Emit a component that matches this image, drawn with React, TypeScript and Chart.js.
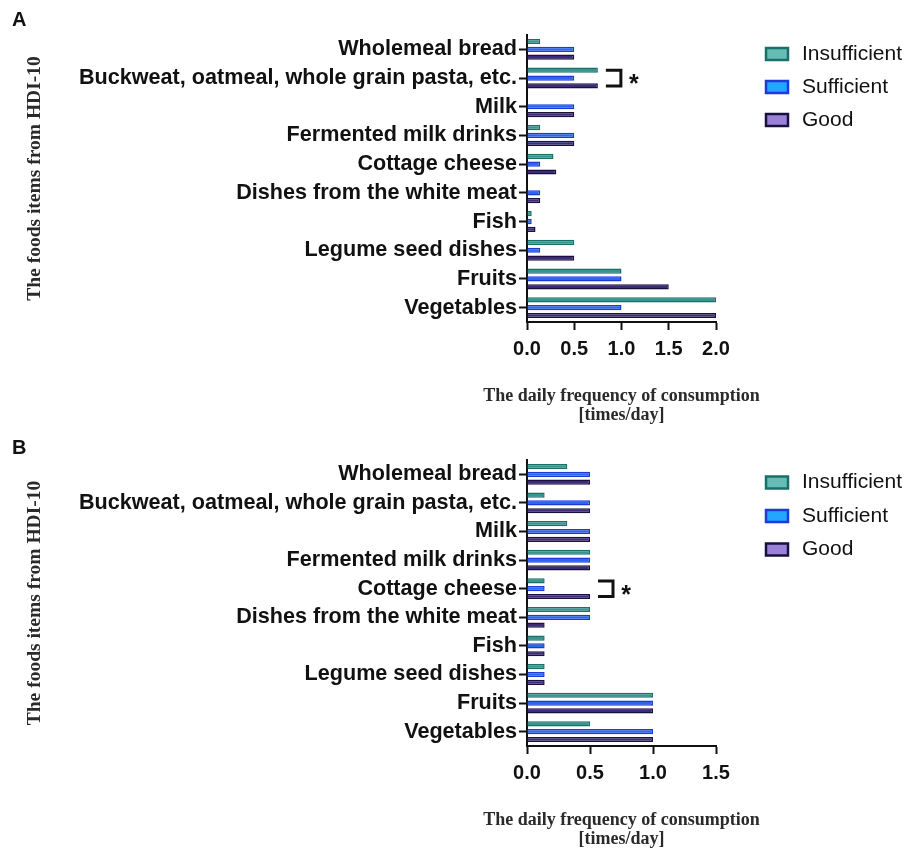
import React, { useEffect, useRef } from 'react';
import { Chart, registerables } from 'chart.js';

Chart.register(...registerables);

// ---------- data ----------
const categories = [
  'Wholemeal bread',
  'Buckweat, oatmeal, whole grain pasta, etc.',
  'Milk',
  'Fermented milk drinks',
  'Cottage cheese',
  'Dishes from the white meat',
  'Fish',
  'Legume seed dishes',
  'Fruits',
  'Vegetables',
];
const seriesNames = ['Insufficient', 'Sufficient', 'Good'];

// Panel A
const insufficientA = [0.14, 0.75, 0, 0.14, 0.28, 0, 0.05, 0.5, 1.0, 2.0];
const sufficientA = [0.5, 0.5, 0.5, 0.5, 0.14, 0.14, 0.05, 0.14, 1.0, 1.0];
const goodA = [0.5, 0.75, 0.5, 0.5, 0.31, 0.14, 0.09, 0.5, 1.5, 2.0];
const xTicksA = [0, 0.5, 1.0, 1.5, 2.0];
const sigCategoryA = 'Buckweat, oatmeal, whole grain pasta, etc.';

// Panel B
const insufficientB = [0.32, 0.14, 0.32, 0.5, 0.14, 0.5, 0.14, 0.14, 1.0, 0.5];
const sufficientB = [0.5, 0.5, 0.5, 0.5, 0.14, 0.5, 0.14, 0.14, 1.0, 1.0];
const goodB = [0.5, 0.5, 0.5, 0.5, 0.5, 0.14, 0.14, 0.14, 1.0, 1.0];
const xTicksB = [0, 0.5, 1.0, 1.5];
const sigCategoryB = 'Cottage cheese';

const yTitle = 'The foods items from HDI-10';
const xTitle = ['The daily frequency of consumption', '[times/day]'];

// ---------- styles ----------
const fills = ['#34968f', '#2a66f2', '#3b2b7a'];
const borders = ['#1b6f6a', '#1c3bd6', '#1a1040'];
const legendFills = ['#66bdb6', '#22a6ff', '#9b82d8'];

const SANS = '"Liberation Sans", Arial, sans-serif';
const SERIF = '"Liberation Serif", "Times New Roman", serif';

Chart.defaults.font.family = SANS;

const sideLegend = {
  id: 'sideLegend',
  afterDraw(chart: any, _args: any, opts: any) {
    const ctx = chart.ctx as CanvasRenderingContext2D;
    ctx.save();
    chart.data.datasets.forEach((ds: any, i: number) => {
      const cy = opts.y + i * opts.gap;
      ctx.fillStyle = ds.legendFill;
      ctx.fillRect(opts.x, cy - opts.h / 2, opts.w, opts.h);
      ctx.lineWidth = 2.5;
      ctx.strokeStyle = ds.borderColor;
      ctx.strokeRect(opts.x, cy - opts.h / 2, opts.w, opts.h);
      ctx.fillStyle = '#111';
      ctx.font = `21px ${SANS}`;
      ctx.textBaseline = 'middle';
      ctx.textAlign = 'left';
      ctx.fillText(ds.label, opts.x + opts.textOffset, cy);
    });
    ctx.restore();
  },
};

// x-axis title drawn without the scale's width limit (it is wider than the axis)
const wideXTitle = {
  id: 'wideXTitle',
  afterDraw(chart: any, _args: any, opts: any) {
    const s = chart.scales.x;
    const ctx = chart.ctx as CanvasRenderingContext2D;
    const lines: string[] = opts.text;
    ctx.save();
    ctx.fillStyle = '#2a2a2a';
    ctx.font = `bold ${opts.size}px ${SERIF}`;
    ctx.textAlign = 'center';
    ctx.textBaseline = 'alphabetic';
    const cx = (s.left + s.right) / 2;
    lines.forEach((t, j) => {
      const y = s.bottom - opts.bottomGap - (lines.length - 1 - j) * opts.lineHeight;
      ctx.fillText(t, cx, y);
    });
    ctx.restore();
  },
};

const sigBracket = {
  id: 'sigBracket',
  afterDatasetsDraw(chart: any, _args: any, opts: any) {
    const i = chart.data.labels.indexOf(opts.category);
    if (i < 0) return;
    const n = chart.data.datasets.length;
    const first = chart.getDatasetMeta(0).data[i];
    const last = chart.getDatasetMeta(n - 1).data[i];
    const maxV = Math.max(...chart.data.datasets.map((d: any) => d.data[i]));
    const x0 = chart.scales.x.getPixelForValue(maxV) + opts.gap;
    const x1 = x0 + opts.arm;
    const ctx = chart.ctx as CanvasRenderingContext2D;
    ctx.save();
    ctx.strokeStyle = '#111';
    ctx.lineWidth = 3;
    ctx.lineJoin = 'miter';
    ctx.beginPath();
    ctx.moveTo(x0, first.y);
    ctx.lineTo(x1, first.y);
    ctx.lineTo(x1, last.y);
    ctx.lineTo(x0, last.y);
    ctx.stroke();
    ctx.fillStyle = '#111';
    ctx.font = `bold 25px ${SANS}`;
    ctx.textAlign = 'center';
    ctx.textBaseline = 'alphabetic';
    ctx.fillText('*', x1 + 13, (first.y + last.y) / 2 + 14);
    ctx.restore();
  },
};

type PanelProps = {
  letter: string;
  series: number[][];
  ticks: number[];
  sigCategory: string;
  top: number;
  height: number;
  letterPad: { top: number; bottom: number };
  legendY: number;
  legendGap: number;
};

function Panel(p: PanelProps) {
  const ref = useRef<HTMLCanvasElement>(null);
  useEffect(() => {
    const ticks = p.ticks;
    const chart = new Chart(ref.current as HTMLCanvasElement, {
      type: 'bar',
      data: {
        labels: categories,
        datasets: seriesNames.map((name, k) => ({
          label: name,
          data: p.series[k],
          backgroundColor: fills[k],
          borderColor: borders[k],
          borderWidth: 1.5,
          legendFill: legendFills[k],
          categoryPercentage: 0.82,
          barPercentage: 0.66,
        })) as any,
      },
      options: {
        indexAxis: 'y',
        responsive: false,
        animation: false,
        devicePixelRatio: 1,
        layout: { padding: { left: 12, top: 0, right: 198, bottom: 0 } },
        plugins: {
          legend: { display: false },
          tooltip: { enabled: false },
          title: {
            display: true,
            text: p.letter,
            align: 'start',
            color: '#111',
            font: { family: SANS, size: 20, weight: 'bold', lineHeight: 1.2 },
            padding: p.letterPad,
          },
          sideLegend: { x: 766, y: p.legendY, gap: p.legendGap, w: 22, h: 12, textOffset: 36 },
          sigBracket: { category: p.sigCategory, gap: 8, arm: 15 },
          wideXTitle: { text: xTitle, size: 18, lineHeight: 19.5, bottomGap: 4 },
        } as any,
        scales: {
          y: {
            type: 'category',
            afterFit: (s: any) => {
              s.width = 515;
            },
            grid: { drawOnChartArea: false, offset: false, tickLength: 8, tickWidth: 2, tickColor: '#111' },
            border: { color: '#111', width: 2 },
            ticks: { autoSkip: false, color: '#111', padding: 2, font: { family: SANS, size: 21.6, weight: 'bold' } },
            title: {
              display: true,
              text: yTitle,
              color: '#2a2a2a',
              font: { family: SERIF, size: 19.5, weight: 'bold', lineHeight: 1.2 },
              padding: { top: 11.3, bottom: 0 },
            },
          },
          x: {
            type: 'linear',
            min: ticks[0],
            max: ticks[ticks.length - 1],
            afterFit: (s: any) => {
              s.height = 102;
            },
            afterBuildTicks: (s: any) => {
              s.ticks = ticks.map((v) => ({ value: v }));
            },
            grid: { drawOnChartArea: false, tickLength: 8, tickWidth: 2, tickColor: '#111' },
            border: { color: '#111', width: 2 },
            ticks: {
              color: '#111',
              padding: 7,
              maxRotation: 0,
              font: { family: SANS, size: 20, weight: 'bold' },
              callback: (v: any) => Number(v).toFixed(1),
            },
            title: { display: false },
          },
        },
      } as any,
      plugins: [sideLegend, sigBracket, wideXTitle] as any,
    });
    return () => chart.destroy();
  }, []);
  return (
    <canvas
      ref={ref}
      width={914}
      height={p.height}
      style={{ position: 'absolute', left: 0, top: p.top, width: 914, height: p.height }}
    />
  );
}

export default function App() {
  return (
    <div
      style={{
        position: 'absolute',
        left: 0,
        top: 0,
        width: 914,
        height: 848,
        overflow: 'hidden',
        background: '#fff',
      }}
    >
      <Panel
        letter="A"
        series={[insufficientA, sufficientA, goodA]}
        ticks={xTicksA}
        sigCategory={sigCategoryA}
        top={0}
        height={424}
        letterPad={{ top: 8.5, bottom: 2.5 }}
        legendY={54}
        legendGap={33}
      />
      <Panel
        letter="B"
        series={[insufficientB, sufficientB, goodB]}
        ticks={xTicksB}
        sigCategory={sigCategoryB}
        top={425}
        height={423}
        letterPad={{ top: 11, bottom: 0 }}
        legendY={57.5}
        legendGap={33.5}
      />
    </div>
  );
}
